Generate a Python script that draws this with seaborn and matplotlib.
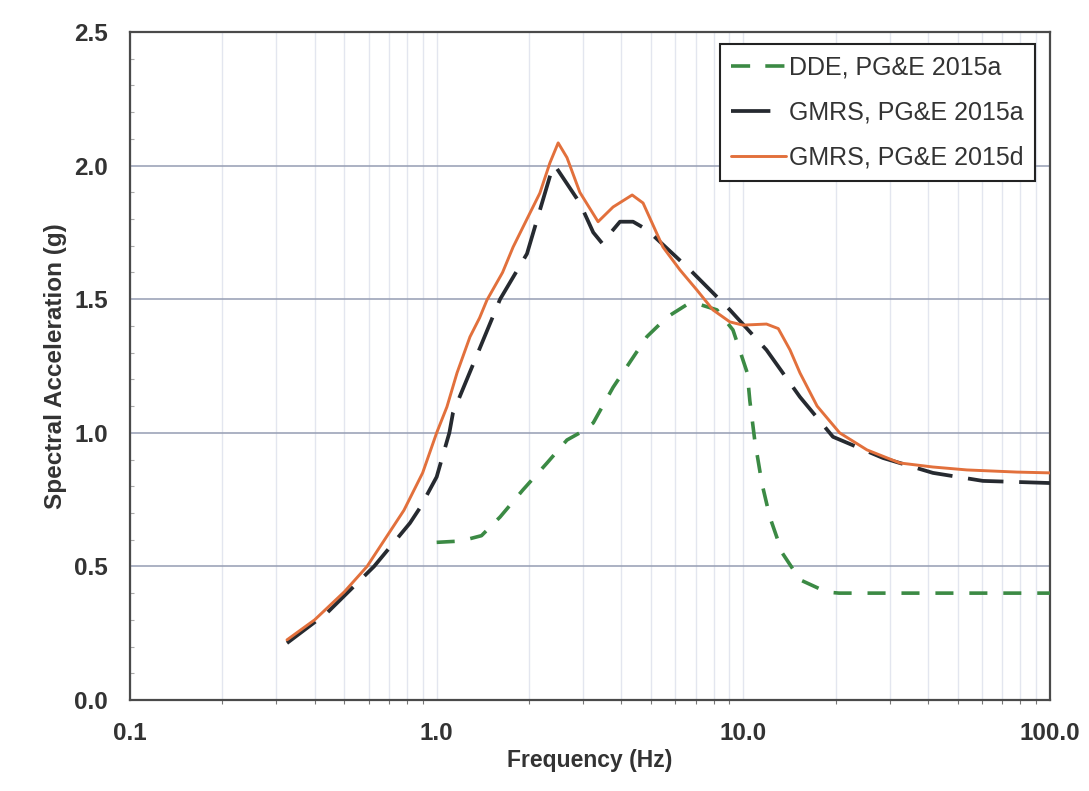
import numpy as np
import pandas as pd
import matplotlib
matplotlib.use("Agg")
import matplotlib.pyplot as plt
import seaborn as sns
from matplotlib.ticker import FixedLocator, LogLocator, MultipleLocator, NullFormatter

# --- data (frequency in Hz, spectral acceleration in g) ---
dde_freq = [1.0, 1.2, 1.4, 1.61, 1.91, 2.29, 2.66, 2.93, 3.24, 3.76, 4.85, 5.64, 6.55,
            7.22, 8.2, 9.25, 10.3, 10.5, 10.9, 11.5, 12.2, 13.4, 15.3, 18.7, 20.5, 50.0, 100.0]
dde_sa = [0.59, 0.595, 0.615, 0.685, 0.786, 0.887, 0.973, 1.0, 1.037, 1.17, 1.36, 1.433, 1.48,
          1.48, 1.46, 1.385, 1.224, 1.12, 0.97, 0.81, 0.685, 0.55, 0.45, 0.404, 0.40, 0.40, 0.40]

gmrs_a_freq = [0.325, 0.439, 0.625, 0.818, 0.883, 1.0, 1.1, 1.13, 1.61, 1.97, 2.39, 2.43,
               2.93, 3.24, 3.46, 3.96, 4.37, 4.85, 6.7, 9.04, 11.9, 15.3, 19.6, 28.5, 41.5,
               60.4, 100.0]
gmrs_a_sa = [0.213, 0.326, 0.50, 0.662, 0.72, 0.835, 1.0, 1.074, 1.50, 1.67, 1.995, 2.0,
             1.86, 1.75, 1.71, 1.79, 1.79, 1.76, 1.61, 1.46, 1.31, 1.134, 0.985, 0.906, 0.85,
             0.82, 0.812]

gmrs_d_freq = [0.325, 0.40, 0.50, 0.593, 0.782, 0.9, 1.0, 1.08, 1.165, 1.284, 1.38, 1.459,
               1.64, 1.775, 1.97, 2.17, 2.34, 2.49, 2.66, 2.93, 3.36, 3.76, 4.34, 4.71, 5.47,
               6.21, 7.06, 7.96, 9.04, 9.97, 11.9, 13.0, 14.2, 15.3, 17.4, 20.6, 25.3, 32.4,
               41.5, 53.6, 78.0, 100.0]
gmrs_d_sa = [0.225, 0.30, 0.405, 0.50, 0.71, 0.85, 1.0, 1.097, 1.224, 1.359, 1.43, 1.497,
             1.60, 1.695, 1.80, 1.897, 2.01, 2.085, 2.03, 1.90, 1.79, 1.845, 1.89, 1.86, 1.695,
             1.61, 1.534, 1.46, 1.415, 1.403, 1.407, 1.39, 1.31, 1.224, 1.10, 1.0, 0.936, 0.887,
             0.872, 0.861, 0.853, 0.850]

labels = ["DDE, PG&E 2015a", "GMRS, PG&E 2015a", "GMRS, PG&E 2015d"]
x_ticks = [0.1, 1.0, 10.0, 100.0]
x_tick_labels = ["0.1", "1.0", "10.0", "100.0"]
y_ticks = [0.0, 0.5, 1.0, 1.5, 2.0, 2.5]

sns.set_style("white")
plt.rcParams["font.family"] = ["Liberation Sans", "DejaVu Sans"]

fig = plt.figure(figsize=(10.89, 7.91), dpi=100)
ax = fig.add_axes([130 / 1089, 1 - 700 / 791, 920 / 1089, 668 / 791])

dde = pd.DataFrame({"freq": dde_freq, "sa": dde_sa})
gmrs_a = pd.DataFrame({"freq": gmrs_a_freq, "sa": gmrs_a_sa})
gmrs_d = pd.DataFrame({"freq": gmrs_d_freq, "sa": gmrs_d_sa})

sns.lineplot(data=dde, x="freq", y="sa", ax=ax, color="#3b8a44", linewidth=2.6,
             linestyle=(0, (5.0, 4.4)), label=labels[0], estimator=None, sort=False, zorder=3)
sns.lineplot(data=gmrs_a, x="freq", y="sa", ax=ax, color="#262a30", linewidth=2.7,
             linestyle=(0, (9.5, 4.2)), label=labels[1], estimator=None, sort=False, zorder=4)
sns.lineplot(data=gmrs_d, x="freq", y="sa", ax=ax, color="#e2703c", linewidth=2.1,
             label=labels[2], estimator=None, sort=False, zorder=5)

ax.set_xscale("log")
ax.set_xlim(0.1, 100)
ax.set_ylim(0, 2.5)

ax.xaxis.set_major_locator(FixedLocator(x_ticks))
ax.set_xticklabels(x_tick_labels)
ax.xaxis.set_minor_locator(LogLocator(base=10, subs=np.arange(2, 10)))
ax.xaxis.set_minor_formatter(NullFormatter())
ax.set_yticks(y_ticks)
ax.set_yticklabels([f"{v:.1f}" for v in y_ticks])
ax.yaxis.set_minor_locator(MultipleLocator(0.1))

# gridlines: light vertical decade lines, bluish-gray horizontal lines
ax.grid(which="minor", axis="x", color="#e3e6ef", linewidth=1.0)
ax.grid(which="major", axis="x", color="#e3e6ef", linewidth=1.0)
ax.grid(which="major", axis="y", color="#959db3", linewidth=1.1)
ax.set_axisbelow(True)

for sp in ax.spines.values():
    sp.set_color("#4a4a4a")
    sp.set_linewidth(1.6)

ax.tick_params(axis="both", which="major", direction="out", length=4, width=1,
               color="#4a4a4a", labelsize=17.5, labelcolor="#333333")
ax.tick_params(axis="x", which="major", pad=12)
ax.tick_params(axis="y", which="major", pad=12)
ax.tick_params(axis="x", which="minor", direction="out", length=3, width=0.8, color="#777777")
ax.tick_params(axis="y", which="minor", direction="in", length=3, width=0.8, color="#aaaaaa")
ax.tick_params(axis="y", which="minor", left=True)
ax.tick_params(axis="x", which="minor", bottom=True)
for lab in ax.get_xticklabels() + ax.get_yticklabels():
    lab.set_fontweight("bold")

ax.set_xlabel("Frequency (Hz)", fontsize=16.5, fontweight="bold", color="#333333",
              labelpad=3)
ax.set_ylabel("Spectral Acceleration (g)", fontsize=17.5, fontweight="bold",
              color="#333333", labelpad=5)

leg = ax.legend(loc="upper right", bbox_to_anchor=(0.984, 0.982), fontsize=18,
                frameon=True, fancybox=False, edgecolor="#222222", framealpha=1,
                handlelength=2.2, handletextpad=0.12, labelspacing=0.85,
                borderpad=0.45, borderaxespad=0)
leg.get_frame().set_linewidth(1.5)
for t in leg.get_texts():
    t.set_color("#333333")
# legend swatches: two short green dashes, one long black dash
leg_lines = leg.get_lines()
leg_lines[0].set_linestyle((0, (5.3, 4.2)))
leg_lines[1].set_linestyle((0, (10.5, 8.0)))

fig.savefig("out.png", dpi=100, facecolor="white")
